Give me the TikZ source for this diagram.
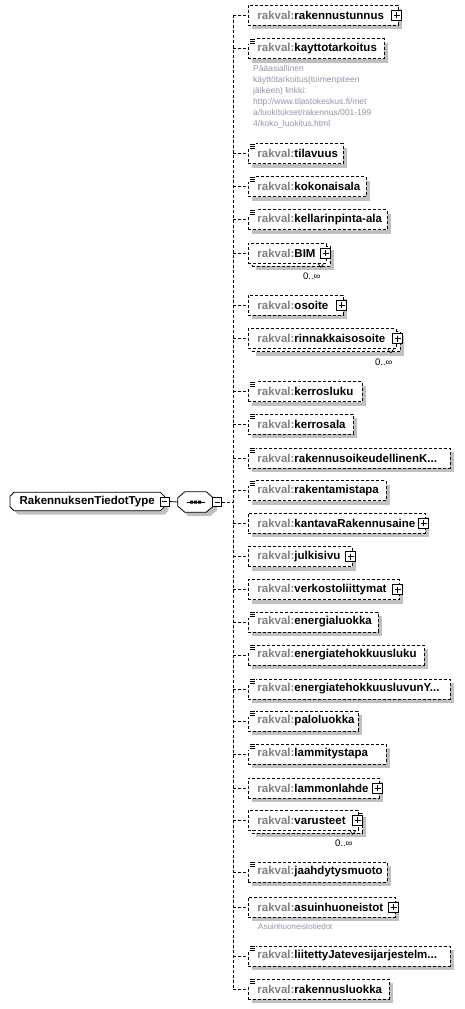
\documentclass[tikz,border=0pt]{standalone}
\usepackage{fontspec}
\setmainfont{Liberation Sans}
\usetikzlibrary{shadows}

\definecolor{tiento}{RGB}{128,128,128}
\definecolor{ghichu}{RGB}{145,148,165}
\definecolor{bong}{RGB}{192,192,192}

\newcommand{\rakval}{\textcolor{tiento}{rakval:}}

\pgfdeclarelayer{nen}
\pgfsetlayers{nen,main}

\tikzset{
  elembase/.style={draw, dash pattern=on 3pt off 2pt, line width=0.8pt, fill=white,
    anchor=west, minimum height=20pt, inner xsep=9pt, inner ysep=0pt, align=left,
    font=\fontsize{11.5}{13}\selectfont\bfseries},
  elem/.style={elembase, drop shadow={shadow xshift=4pt, shadow yshift=-4pt, fill=bong, opacity=1}},
  plusbox/.style={draw, solid, line width=0.7pt, fill=white, minimum size=10pt, inner sep=0pt,
    path picture={\draw[line width=0.7pt] ([xshift=2pt]path picture bounding box.west) -- ([xshift=-2pt]path picture bounding box.east)
      ([yshift=-2pt]path picture bounding box.north) -- ([yshift=2pt]path picture bounding box.south);}},
  minusbox/.style={draw, solid, line width=0.7pt, fill=white, minimum size=9pt, inner sep=0pt,
    path picture={\draw[line width=0.7pt] ([xshift=2pt]path picture bounding box.west) -- ([xshift=-2pt]path picture bounding box.east);}},
  typebox/.style={anchor=west, minimum width=154pt, minimum height=18pt,
    inner xsep=3pt, inner ysep=0pt, align=left, font=\fontsize{11.5}{13}\selectfont\bfseries},
  seqbox/.style={minimum width=35pt, minimum height=20pt, inner sep=0pt},
  outline/.style={line width=0.8pt, fill=white,
    drop shadow={shadow xshift=4pt, shadow yshift=-4pt, fill=bong, opacity=1}},
  link/.style={dash pattern=on 3pt off 2pt, line width=0.8pt},
  mult/.style={inner sep=0pt, font=\fontsize{9.5}{11}\selectfont},
  doc/.style={anchor=north west, align=left, text=ghichu, inner sep=0pt, font=\fontsize{8.5}{11}\selectfont},
  eqicon/.pic={\fill[white] (-1,-1) rectangle (8,6);
    \draw[line width=0.6pt] (2,1) -- (7,1) (2,3) -- (7,3) (2,5) -- (7,5);}
}

\begin{document}
\begin{tikzpicture}[x=1pt, y=-1pt]
% Khung
\useasboundingbox (0,0) rectangle (464,1009);

% Kiểu gốc và dãy
\node[typebox] (root) at (10,501.5) {RakennuksenTiedotType};
\node[seqbox] (seq) at (195.5,502) {};
\begin{pgfonlayer}{nen}
  \draw[outline] ([xshift=4pt]root.north west) -- ([xshift=-4pt]root.north east) -- ([yshift=-4pt]root.north east)
    -- ([yshift=4pt]root.south east) -- ([xshift=-4pt]root.south east) -- ([xshift=4pt]root.south west)
    -- ([yshift=4pt]root.south west) -- ([yshift=-4pt]root.north west) -- cycle;
  \draw[outline] ([xshift=7pt]seq.north west) -- ([xshift=-7pt]seq.north east) -- ([yshift=-6pt]seq.north east)
    -- ([yshift=6pt]seq.south east) -- ([xshift=-7pt]seq.south east) -- ([xshift=7pt]seq.south west)
    -- ([yshift=6pt]seq.south west) -- ([yshift=-6pt]seq.north west) -- cycle;
\end{pgfonlayer}
\node[minusbox] (root-minus) at (root.east) {};
\node[minusbox, anchor=west] (seq-minus) at ([xshift=-1pt]seq.east) {};
\draw[line width=0.8pt] (root-minus.east) -- (seq.west);
\draw[line width=0.8pt] ([xshift=-9pt]seq.center) -- ([xshift=9pt]seq.center);
\fill ([xshift=-5.5pt, yshift=1.5pt]seq.center) rectangle ++(3,3)
  ([xshift=-1.5pt, yshift=1.5pt]seq.center) rectangle ++(3,3)
  ([xshift=2.5pt, yshift=1.5pt]seq.center) rectangle ++(3,3);
\coordinate (spine) at (233,502);

% Các phần tử
\node[elem, text width=132pt] (rakennustunnus) at (248,15) {\rakval rakennustunnus};
\node[elem, text width=118pt] (kayttotarkoitus) at (248,48.5) {\rakval kayttotarkoitus};
\node[doc] (kayttotarkoitus-doc) at (253,65) {Pääasiallinen\\käyttötarkoitus(toimenpiteen\\jälkeen) linkki:\\http://www.tilastokeskus.fi/met\\a/luokitukset/rakennus/001-199\\4/koko\_luokitus.html};
\node[elem, text width=77pt] (tilavuus) at (248,153.5) {\rakval tilavuus};
\node[elem, text width=100pt] (kokonaisala) at (248,186.5) {\rakval kokonaisala};
\node[elem, text width=121pt] (kellarinpintaala) at (248,219.5) {\rakval \mbox{kellarinpinta-ala}};
\node[elem, text width=60pt] (BIM-back) at (252,256) {};
\node[elembase, text width=60pt] (BIM) at (248,253) {\rakval BIM};
\node[elem, text width=77pt] (osoite) at (248,305) {\rakval osoite};
\node[elem, text width=130pt] (rinnakkaisosoite-back) at (252,341.5) {};
\node[elembase, text width=130pt] (rinnakkaisosoite) at (248,338.5) {\rakval rinnakkaisosoite};
\node[elem, text width=96pt] (kerrosluku) at (248,391.5) {\rakval kerrosluku};
\node[elem, text width=87pt] (kerrosala) at (248,424) {\rakval kerrosala};
\node[elem, text width=184pt] (rakennusoikeudellinen) at (248,458) {\rakval rakennusoikeudellinenK...};
\node[elem, text width=120pt] (rakentamistapa) at (248,490.5) {\rakval rakentamistapa};
\node[elem, text width=159pt] (kantavaRakennusaine) at (248,523) {\rakval kantavaRakennusaine};
\node[elem, text width=86pt] (julkisivu) at (248,556.5) {\rakval julkisivu};
\node[elem, text width=133pt] (verkostoliittymat) at (248,589.5) {\rakval verkostoliittymat};
\node[elem, text width=112pt] (energialuokka) at (248,622) {\rakval energialuokka};
\node[elem, text width=158pt] (energiatehokkuusluku) at (248,655) {\rakval energiatehokkuusluku};
\node[elem, text width=184pt] (energiatehokkuusluvun) at (248,689) {\rakval energiatehokkuusluvunY...};
\node[elem, text width=92pt] (paloluokka) at (248,721) {\rakval paloluokka};
\node[elem, text width=120pt] (lammitystapa) at (248,754) {\rakval lammitystapa};
\node[elem, text width=113pt] (lammonlahde) at (248,788) {\rakval lammonlahde};
\node[elem, text width=92pt] (varusteet-back) at (252,823) {};
\node[elembase, text width=92pt] (varusteet) at (248,820) {\rakval varusteet};
\node[elem, text width=121pt] (jaahdytysmuoto) at (248,872) {\rakval jaahdytysmuoto};
\node[elem, text width=129pt] (asuinhuoneistot) at (248,907) {\rakval asuinhuoneistot};
\node[doc, font=\fontsize{8}{10}\selectfont] (asuinhuoneistot-doc) at (258,923) {Asuinhuoneistotiedot};
\node[elem, text width=184pt] (liitettyJatevesi) at (248,956) {\rakval liitettyJatevesijarjestelm...};
\node[elem, text width=123pt] (rakennusluokka) at (248,989) {\rakval rakennusluokka};

% Dấu mở rộng
\node[plusbox] (rakennustunnus-plus) at ([xshift=-2pt]rakennustunnus.east) {};
\node[plusbox] (BIM-plus) at ([xshift=-1pt]BIM.east) {};
\node[plusbox] (osoite-plus) at ([xshift=-2pt]osoite.east) {};
\node[plusbox] (rinnakkaisosoite-plus) at ([xshift=1pt]rinnakkaisosoite.east) {};
\node[plusbox] (kantavaRakennusaine-plus) at ([xshift=-2pt]kantavaRakennusaine.east) {};
\node[plusbox] (julkisivu-plus) at ([xshift=-2pt]julkisivu.east) {};
\node[plusbox] (verkostoliittymat-plus) at ([xshift=-2pt]verkostoliittymat.east) {};
\node[plusbox] (lammonlahde-plus) at ([xshift=-2pt]lammonlahde.east) {};
\node[plusbox] (varusteet-plus) at ([xshift=-1pt]varusteet.east) {};
\node[plusbox] (asuinhuoneistot-plus) at ([xshift=-2pt]asuinhuoneistot.east) {};

% Kiểu đơn giản
\pic at (kayttotarkoitus.north west) {eqicon};
\pic at (tilavuus.north west) {eqicon};
\pic at (kokonaisala.north west) {eqicon};
\pic at (kellarinpintaala.north west) {eqicon};
\pic at (kerrosluku.north west) {eqicon};
\pic at (kerrosala.north west) {eqicon};
\pic at (rakennusoikeudellinen.north west) {eqicon};
\pic at (rakentamistapa.north west) {eqicon};
\pic at (energialuokka.north west) {eqicon};
\pic at (energiatehokkuusluku.north west) {eqicon};
\pic at (energiatehokkuusluvun.north west) {eqicon};
\pic at (paloluokka.north west) {eqicon};
\pic at (lammitystapa.north west) {eqicon};
\pic at (jaahdytysmuoto.north west) {eqicon};
\pic at (liitettyJatevesi.north west) {eqicon};
\pic at (rakennusluokka.north west) {eqicon};

% Số lần xuất hiện
\draw[line width=0.6pt] ([xshift=-9pt]BIM.south east) -- ++(3,4) -- ++(3,-4);
\node[mult] (BIM-mult) at ([xshift=-15pt, yshift=-13pt]BIM.south east) {0..∞};
\draw[line width=0.6pt] ([xshift=-9pt]rinnakkaisosoite.south east) -- ++(3,4) -- ++(3,-4);
\node[mult] (rinnakkaisosoite-mult) at ([xshift=-13pt, yshift=-13pt]rinnakkaisosoite.south east) {0..∞};
\draw[line width=0.6pt] ([xshift=-9pt]varusteet.south east) -- ++(3,4) -- ++(3,-4);
\node[mult] (varusteet-mult) at ([xshift=-15pt, yshift=-13pt]varusteet.south east) {0..∞};

% Đường nối
\draw[link] (seq-minus.east) -- (spine);
\draw[link] (spine |- rakennustunnus.west) -- (spine |- rakennusluokka.west);
\draw[link] (spine |- rakennustunnus.west) -- (rakennustunnus.west)
  (spine |- kayttotarkoitus.west) -- (kayttotarkoitus.west)
  (spine |- tilavuus.west) -- (tilavuus.west)
  (spine |- kokonaisala.west) -- (kokonaisala.west)
  (spine |- kellarinpintaala.west) -- (kellarinpintaala.west)
  (spine |- BIM.west) -- (BIM.west)
  (spine |- osoite.west) -- (osoite.west)
  (spine |- rinnakkaisosoite.west) -- (rinnakkaisosoite.west)
  (spine |- kerrosluku.west) -- (kerrosluku.west)
  (spine |- kerrosala.west) -- (kerrosala.west)
  (spine |- rakennusoikeudellinen.west) -- (rakennusoikeudellinen.west)
  (spine |- rakentamistapa.west) -- (rakentamistapa.west)
  (spine |- kantavaRakennusaine.west) -- (kantavaRakennusaine.west)
  (spine |- julkisivu.west) -- (julkisivu.west)
  (spine |- verkostoliittymat.west) -- (verkostoliittymat.west)
  (spine |- energialuokka.west) -- (energialuokka.west)
  (spine |- energiatehokkuusluku.west) -- (energiatehokkuusluku.west)
  (spine |- energiatehokkuusluvun.west) -- (energiatehokkuusluvun.west)
  (spine |- paloluokka.west) -- (paloluokka.west)
  (spine |- lammitystapa.west) -- (lammitystapa.west)
  (spine |- lammonlahde.west) -- (lammonlahde.west)
  (spine |- varusteet.west) -- (varusteet.west)
  (spine |- jaahdytysmuoto.west) -- (jaahdytysmuoto.west)
  (spine |- asuinhuoneistot.west) -- (asuinhuoneistot.west)
  (spine |- liitettyJatevesi.west) -- (liitettyJatevesi.west)
  (spine |- rakennusluokka.west) -- (rakennusluokka.west);
\end{tikzpicture}
\end{document}
